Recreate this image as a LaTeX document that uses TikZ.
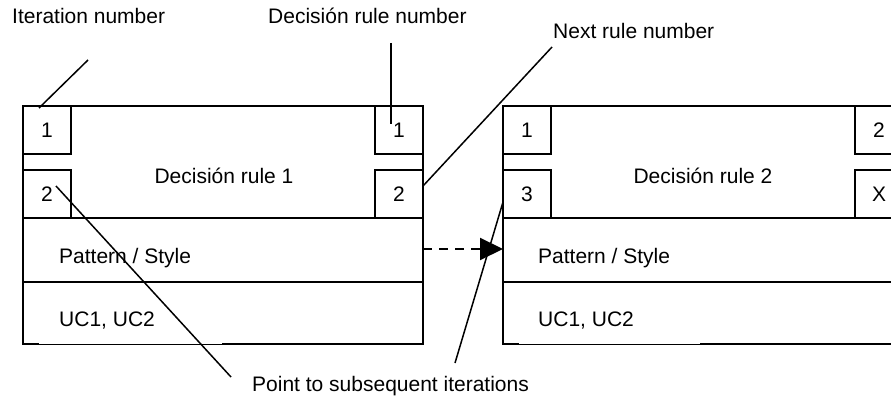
\documentclass[tikz,border=0pt]{standalone}
\usepackage{fontspec}
\setmainfont{Liberation Sans}
\usetikzlibrary{arrows.meta}
\begin{document}
\begin{tikzpicture}[x=1pt,y=-1pt,
  frame/.style={line width=2pt,line join=miter},
  thinedge/.style={line width=0.9pt},
  numbox/.style={draw,line width=2pt,minimum width=48pt,minimum height=48pt,inner sep=0pt,font=\fontsize{21}{25}\selectfont},
  lbl/.style={inner sep=0pt,font=\fontsize{21}{25}\selectfont},
  leader/.style={line width=1.5pt},
  flow/.style={line width=2pt,dash pattern=on 9pt off 7pt,-{Triangle[length=23pt,width=22pt]}},
]
\useasboundingbox (0,0) rectangle (891,396);
\clip (0,0) rectangle (891,396);

% ---------- left rule box ----------
\draw[frame] (39,344) -- (23,344) -- (23,106) -- (423,106) -- (423,344) -- (222,344);
\draw[thinedge] (39,344) -- (222,344);
\draw[frame] (23,218) -- (423,218);
\draw[frame] (23,282) -- (423,282);
\node[numbox] (la) at (47,130) {1};
\node[numbox] (lb) at (47,194) {2};
\node[numbox] (lc) at (399,130) {1};
\node[numbox] (ld) at (399,194) {2};
\node[lbl] (ltitle) at (224,176) {Decisión rule 1};
\node[lbl,anchor=base west] (lpat) at (59,263) {Pattern / Style};
\node[lbl,anchor=base west] (luc) at (59,326) {UC1, UC2};

% ---------- right rule box ----------
\draw[frame] (519,344) -- (503,344) -- (503,106) -- (903,106) -- (903,344) -- (700,344);
\draw[thinedge] (519,344) -- (700,344);
\draw[frame] (503,218) -- (903,218);
\draw[frame] (503,282) -- (903,282);
\node[numbox] (ra) at (527,130) {1};
\node[numbox] (rb) at (527,194) {3};
\node[numbox] (rc) at (879,130) {2};
\node[numbox] (rd) at (879,194) {X};
\node[lbl] (rtitle) at (703,176) {Decisión rule 2};
\node[lbl,anchor=base west] (rpat) at (538,263) {Pattern / Style};
\node[lbl,anchor=base west] (ruc) at (538,326) {UC1, UC2};

% ---------- labels ----------
\node[lbl,anchor=base west] (itlab) at (12,24) {Iteration number};
\node[lbl,anchor=base west] (drlab) at (268,24) {Decisión rule number};
\node[lbl,anchor=base west] (nxlab) at (553,38) {Next rule number};
\node[lbl,anchor=base west] (ptlab) at (252,391) {Point to subsequent iterations};

% ---------- leader lines ----------
\coordinate (it0) at (88,60);
\coordinate (it1) at (39,108);
\coordinate (dr0) at (391,43);
\coordinate (dr1) at (391,124);
\coordinate (nx0) at (552,47);
\coordinate (nx1) at (423,186);
\coordinate (pa0) at (56,186);
\coordinate (pa1) at (231,377);
\coordinate (pb0) at (503,202);
\coordinate (pb1) at (455,363);
\draw[leader] (it0) -- (it1);
\draw[leader] (dr0) -- (dr1);
\draw[leader] (nx0) -- (nx1);
\draw[leader] (pa0) -- (pa1);
\draw[leader] (pb0) -- (pb1);

% ---------- flow arrow ----------
\coordinate (fa) at (423,249);
\coordinate (fb) at (503,249);
\draw[flow] (fa) -- (fb);
\end{tikzpicture}
\end{document}
